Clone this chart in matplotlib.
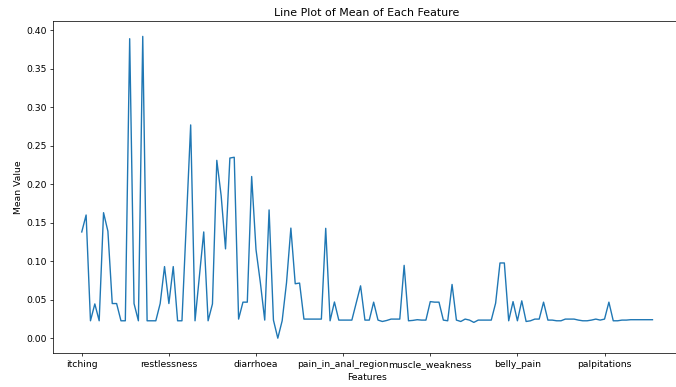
import matplotlib.pyplot as plt

# Feature names (symptom columns) in column order
features = [
    "itching", "skin_rash", "nodal_skin_eruptions", "continuous_sneezing", "shivering",
    "chills", "joint_pain", "stomach_pain", "acidity", "ulcers_on_tongue",
    "muscle_wasting", "vomiting", "burning_micturition", "spotting_ urination", "fatigue",
    "weight_gain", "anxiety", "cold_hands_and_feets", "mood_swings", "weight_loss",
    "restlessness", "lethargy", "patches_in_throat", "irregular_sugar_level", "cough",
    "high_fever", "sunken_eyes", "breathlessness", "sweating", "dehydration",
    "indigestion", "headache", "yellowish_skin", "dark_urine", "nausea",
    "loss_of_appetite", "pain_behind_the_eyes", "back_pain", "constipation", "abdominal_pain",
    "diarrhoea", "mild_fever", "yellow_urine", "yellowing_of_eyes", "acute_liver_failure",
    "fluid_overload", "swelling_of_stomach", "swelled_lymph_nodes", "malaise", "blurred_and_distorted_vision",
    "phlegm", "throat_irritation", "redness_of_eyes", "sinus_pressure", "runny_nose",
    "congestion", "chest_pain", "weakness_in_limbs", "fast_heart_rate", "pain_during_bowel_movements",
    "pain_in_anal_region", "bloody_stool", "irritation_in_anus", "neck_pain", "dizziness",
    "cramps", "bruising", "obesity", "swollen_legs", "swollen_blood_vessels",
    "puffy_face_and_eyes", "enlarged_thyroid", "brittle_nails", "swollen_extremeties", "excessive_hunger",
    "extra_marital_contacts", "drying_and_tingling_lips", "slurred_speech", "knee_pain", "hip_joint_pain",
    "muscle_weakness", "stiff_neck", "swelling_joints", "movement_stiffness", "spinning_movements",
    "loss_of_balance", "unsteadiness", "weakness_of_one_body_side", "loss_of_smell", "bladder_discomfort",
    "foul_smell_of urine", "continuous_feel_of_urine", "passage_of_gases", "internal_itching", "toxic_look_(typhos)",
    "depression", "irritability", "muscle_pain", "altered_sensorium", "red_spots_over_body",
    "belly_pain", "abnormal_menstruation", "dischromic _patches", "watering_from_eyes", "increased_appetite",
    "polyuria", "family_history", "mucoid_sputum", "rusty_sputum", "lack_of_concentration",
    "visual_disturbances", "receiving_blood_transfusion", "receiving_unsterile_injections", "coma", "stomach_bleeding",
    "distention_of_abdomen", "history_of_alcohol_consumption", "fluid_overload.1", "blood_in_sputum", "prominent_veins_on_calf",
    "palpitations", "painful_walking", "pus_filled_pimples", "blackheads", "scurring",
    "skin_peeling", "silver_like_dusting", "small_dents_in_nails", "inflammatory_nails", "blister",
    "red_sore_around_nose", "yellow_crust_ooze",
]

# Mean value of each feature
mean_values = [
    0.138, 0.160, 0.0226, 0.0445, 0.0226, 0.163, 0.139, 0.045, 0.045, 0.0226,
    0.0226, 0.389, 0.045, 0.0226, 0.392, 0.0226, 0.0226, 0.0226, 0.045, 0.093,
    0.045, 0.093, 0.0226, 0.0226, 0.150, 0.277, 0.0226, 0.081, 0.138, 0.0226,
    0.0445, 0.231, 0.185, 0.116, 0.234, 0.235, 0.0248, 0.0468, 0.0468, 0.210,
    0.115, 0.072, 0.0235, 0.1666, 0.0235, 0.0, 0.0226, 0.072, 0.143, 0.0707,
    0.0716, 0.0248, 0.0248, 0.0248, 0.0248, 0.0248, 0.1427, 0.0226, 0.0470, 0.0235,
    0.0235, 0.0235, 0.0235, 0.046, 0.068, 0.0235, 0.0235, 0.0468, 0.0235, 0.0217,
    0.0230, 0.0248, 0.0248, 0.0248, 0.0946, 0.0226, 0.0231, 0.0240, 0.0235, 0.0235,
    0.0475, 0.0468, 0.0468, 0.0235, 0.0226, 0.0698, 0.0235, 0.0217, 0.0248, 0.0235,
    0.0205, 0.0235, 0.0235, 0.0235, 0.0235, 0.0455, 0.0977, 0.0977, 0.0226, 0.0475,
    0.0226, 0.0485, 0.0217, 0.0226, 0.0248, 0.0248, 0.0468, 0.0235, 0.0235, 0.0226,
    0.0226, 0.0248, 0.0248, 0.0248, 0.0235, 0.0226, 0.0226, 0.0235, 0.0248, 0.0235,
    0.0248, 0.0468, 0.0226, 0.0226, 0.0235, 0.0235, 0.0240, 0.0240, 0.0240, 0.0240,
    0.0240, 0.0240,
]

# The reference is a downscaled render, so use a low dpi to keep default styling proportions
fig = plt.figure(figsize=(10.2, 5.84), dpi=66.3)
ax = fig.add_axes([0.0787, 0.0871, 0.9283, 0.8574])

x = range(len(features))
ax.plot(x, mean_values, color="#1f77b4")

tick_pos = list(range(0, len(features), 20))
ax.set_xticks(tick_pos)
ax.set_xticklabels([features[i] for i in tick_pos])

ax.set_title("Line Plot of Mean of Each Feature")
ax.set_xlabel("Features")
ax.set_ylabel("Mean Value")

fig.savefig("out.png", dpi=66.3)
plt.close(fig)
